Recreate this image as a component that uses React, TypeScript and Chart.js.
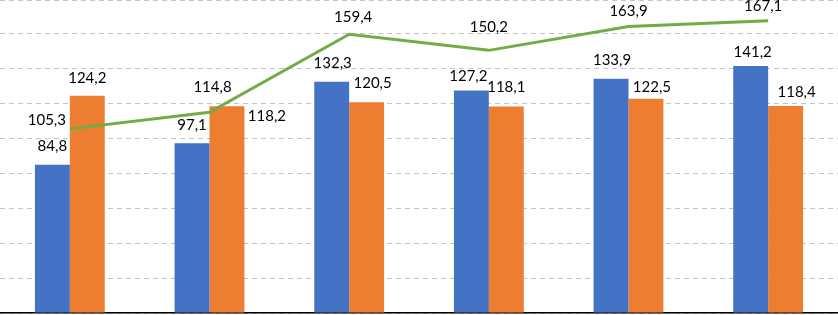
import React, { useEffect, useRef } from "react";
import { Chart, registerables } from "chart.js";

Chart.register(...registerables);

const categories = ["1", "2", "3", "4", "5", "6"];
const seriesBlue = [84.8, 97.1, 132.3, 127.2, 133.9, 141.2];
const seriesOrange = [124.2, 118.2, 120.5, 118.1, 122.5, 118.4];
const seriesLine = [105.3, 114.8, 159.4, 150.2, 163.9, 167.1];

// label offsets (dx, dy) relative to each mark
const blueLabelOffsets = [[0, -19], [0, -18], [1, -19], [-3, -14], [1, -19], [2, -14]];
const orangeLabelOffsets = [[0, -18], [40, 10], [6, -19], [0, -19], [6, -12], [11, -14]];
const lineLabelOffsets = [[-23, -9], [3, -25], [4, -17], [0, -23], [0, -15.5], [-5, -15]];

const fmt = (v: number) => v.toFixed(1).replace(".", ",");

const labelPlugin = {
  id: "valueLabels",
  afterDatasetsDraw(chart: any) {
    const ctx = chart.ctx;
    const offsets = [blueLabelOffsets, orangeLabelOffsets, lineLabelOffsets];
    ctx.save();
    ctx.font = "15px Lato, 'Open Sans', sans-serif";
    ctx.fillStyle = "#000000";
    ctx.textAlign = "center";
    ctx.textBaseline = "middle";
    chart.data.datasets.forEach((ds: any, di: number) => {
      const meta = chart.getDatasetMeta(di);
      meta.data.forEach((el: any, i: number) => {
        const [dx, dy] = offsets[di][i];
        ctx.fillText(fmt(ds.data[i]), el.x + dx, el.y + dy);
      });
    });
    ctx.restore();
  },
};

export default function App() {
  const ref = useRef<HTMLCanvasElement>(null);
  useEffect(() => {
    if (!ref.current) return;
    const chart = new Chart(ref.current, {
      type: "bar",
      data: {
        labels: categories,
        datasets: [
          {
            type: "bar",
            data: seriesBlue,
            backgroundColor: "#4472C4",
            order: 1,
            categoryPercentage: 0.5,
            barPercentage: 1,
          },
          {
            type: "bar",
            data: seriesOrange,
            backgroundColor: "#ED7D31",
            order: 1,
            categoryPercentage: 0.5,
            barPercentage: 1,
          },
          {
            type: "line",
            data: seriesLine,
            borderColor: "#70AD47",
            borderWidth: 3,
            pointRadius: 0,
            tension: 0,
            fill: false,
            order: 0,
          },
        ],
      } as any,
      options: {
        responsive: false,
        animation: false,
        layout: { padding: { left: 0, right: 0, top: 0, bottom: 2 } },
        plugins: { legend: { display: false }, tooltip: { enabled: false } },
        scales: {
          x: {
            grid: { display: false, drawTicks: false },
            ticks: { display: false },
            border: { display: true, color: "#000000", width: 1.5 },
          },
          y: {
            min: 0,
            max: 179,
            ticks: { display: false, stepSize: 20 },
            grid: { color: "#c4c4c4", lineWidth: 1, drawTicks: false },
            border: { display: false, dash: [5, 4] },
          },
        },
      } as any,
      plugins: [labelPlugin],
    });
    return () => chart.destroy();
  }, []);
  return (
    <div style={{ position: "fixed", left: 0, top: 0, width: 838, height: 315, background: "#fff" }}>
      <canvas ref={ref} width={838} height={315} />
    </div>
  );
}
